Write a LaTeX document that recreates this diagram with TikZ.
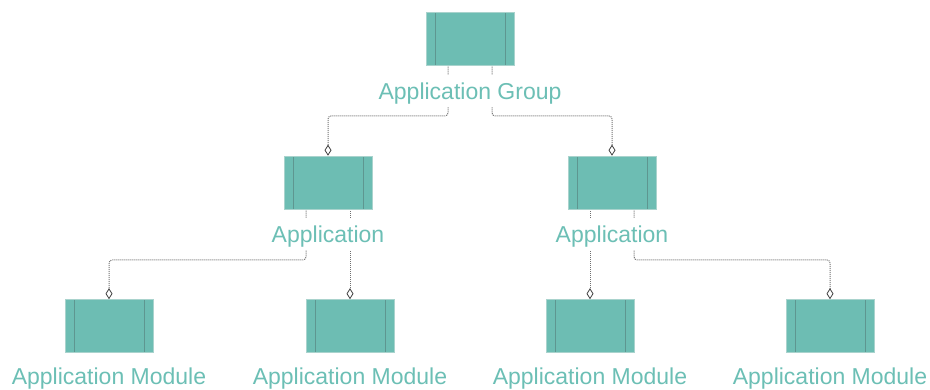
\documentclass[tikz,border=0pt]{standalone}
\usepackage{fontspec}
\setmainfont{Liberation Sans}
\usetikzlibrary{arrows.meta,backgrounds}
\definecolor{boxfill}{HTML}{6DBDB3}
\definecolor{boxline}{HTML}{5E9690}
\definecolor{boxedge}{HTML}{A9D3CD}
\definecolor{labtext}{HTML}{6CBFB5}
\definecolor{conn}{HTML}{707070}
\definecolor{diam}{HTML}{404040}
\tikzset{
  compbox/.style={rectangle, minimum width=88pt, minimum height=53pt, inner sep=0pt,
    fill=boxfill, draw=boxedge, line width=0.6pt,
    path picture={
      \draw[boxline, line width=0.9pt]
        ([xshift=9pt]path picture bounding box.south west) -- ([xshift=9pt]path picture bounding box.north west)
        ([xshift=-9pt]path picture bounding box.south east) -- ([xshift=-9pt]path picture bounding box.north east);
    }},
  lab/.style={anchor=base, font=\fontsize{23}{26}\selectfont, text=labtext, fill=white,
    inner xsep=2pt, inner ysep=4pt, text height=21pt, text depth=3pt},
  modlab/.style={anchor=base, font=\fontsize{23}{26}\selectfont, text=labtext,
    inner sep=0pt},
  link/.style={draw=conn, line width=1pt, dash pattern=on 1pt off 1pt, rounded corners=3pt,
    -{Diamond[open, length=11pt, width=7pt, color=diam, line width=0.8pt]}},
}
\begin{document}
\begin{tikzpicture}[x=1pt, y=-1pt]
\useasboundingbox (0,0) rectangle (930,390);
% boxes
\node[compbox] (g) at (470,38.5) {};
\node[compbox] (a1) at (328,182.5) {};
\node[compbox] (a2) at (612,182.5) {};
\node[compbox] (m1) at (109,326) {};
\node[compbox] (m2) at (350,326) {};
\node[compbox] (m3) at (590,326) {};
\node[compbox] (m4) at (830,326) {};
% labels
\node[lab] (lg) at (470,100) {Application Group};
\node[lab] (la1) at (328,243) {Application};
\node[lab] (la2) at (612,243) {Application};
\node[modlab] (lm1) at (109,384.5) {Application Module};
\node[modlab] (lm2) at (350,384.5) {Application Module};
\node[modlab] (lm3) at (590,384.5) {Application Module};
\node[modlab] (lm4) at (830,384.5) {Application Module};
% connectors
\begin{scope}[on background layer]
\draw[link] ([xshift=-22pt]g.south) |- (328,116) -- (a1.north);
\draw[link] ([xshift=22pt]g.south) |- (612,116) -- (a2.north);
\draw[link] ([xshift=-22pt]a1.south) |- (109,260) -- (m1.north);
\draw[link] ([xshift=22pt]a1.south) -- (m2.north);
\draw[link] ([xshift=-22pt]a2.south) -- (m3.north);
\draw[link] ([xshift=22pt]a2.south) |- (830,260) -- (m4.north);
\end{scope}
\end{tikzpicture}
\end{document}
